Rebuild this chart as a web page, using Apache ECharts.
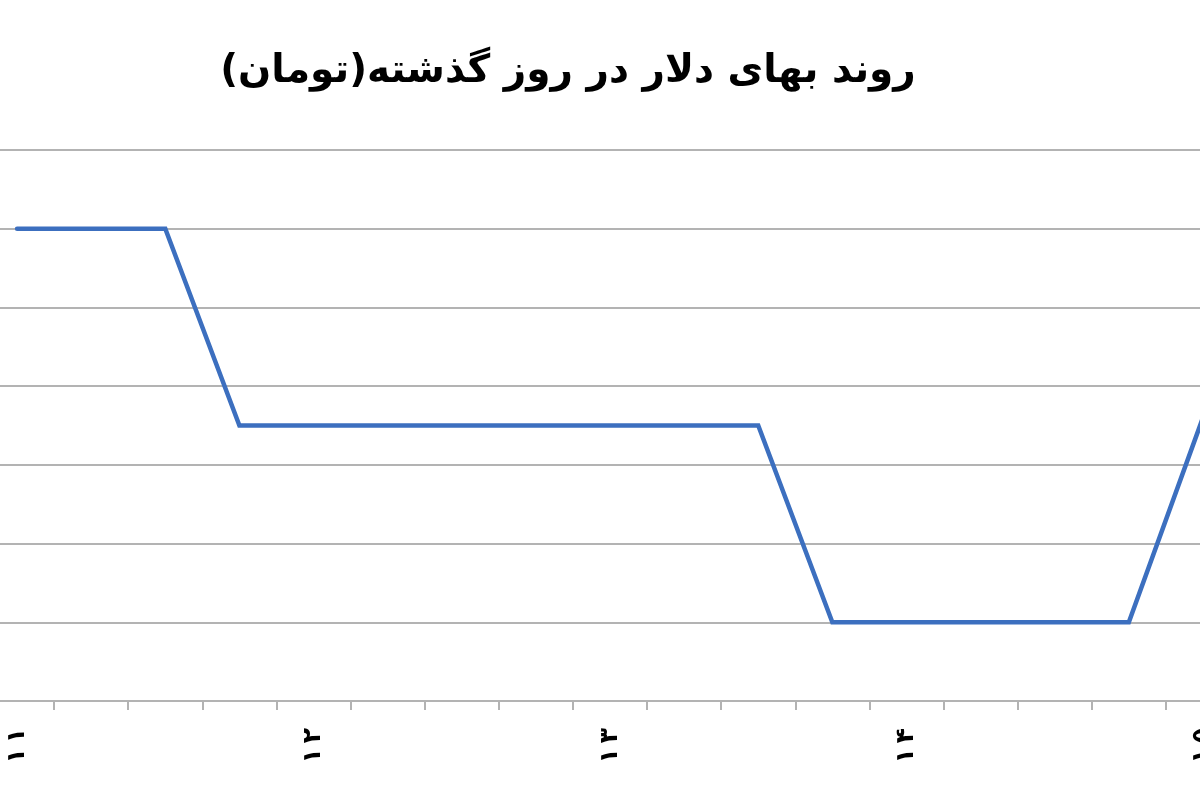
<!DOCTYPE html>
<html>
<head>
<meta charset="utf-8">
<script src="https://cdn.jsdelivr.net/npm/echarts@6/dist/echarts.min.js"></script>
<style>
html,body{margin:0;padding:0;background:#fff;overflow:hidden;width:1200px;height:800px;}
#wrap{position:relative;width:1200px;height:800px;overflow:hidden;}
#chart{position:absolute;left:-20px;top:0;width:1260px;height:800px;}
</style>
</head>
<body>
<div id="wrap"><div id="chart"></div></div>
<script>
// Categories: quarter-hour times, 11:00 to 15:00 (Persian digits)
const categories = [
  "۱۱:۰۰","۱۱:۱۵","۱۱:۳۰","۱۱:۴۵",
  "۱۲:۰۰","۱۲:۱۵","۱۲:۳۰","۱۲:۴۵",
  "۱۳:۰۰","۱۳:۱۵","۱۳:۳۰","۱۳:۴۵",
  "۱۴:۰۰","۱۴:۱۵","۱۴:۳۰","۱۴:۴۵",
  "۱۵:۰۰"
];
// Dollar price (toman)
const prices = [
  13600, 13600, 13600, 13350,
  13350, 13350, 13350, 13350,
  13350, 13350, 13350, 13100,
  13100, 13100, 13100, 13100,
  13360
];
const yMin = 13000, yMax = 13700, yStep = 100;
const titleText = "روند بهای دلار در روز گذشته(تومان)";

const chart = echarts.init(document.getElementById('chart'));
chart.setOption({
  backgroundColor: '#ffffff',
  animation: false,
  title: {
    text: titleText,
    left: 583,
    top: 47,
    textAlign: 'center',
    textStyle: {
      fontFamily: 'DejaVu Sans',
      fontWeight: 'bold',
      fontSize: 39,
      color: '#000000'
    }
  },
  grid: { left: 0, right: 0, top: 150, bottom: 99 },
  xAxis: {
    type: 'category',
    data: categories,
    boundaryGap: true,
    axisLine: { show: true, lineStyle: { color: '#b3b3b3', width: 2 } },
    axisTick: { show: true, interval: 0, length: 9, lineStyle: { color: '#b3b3b3', width: 2 } },
    axisLabel: {
      interval: 3,
      rotate: 90,
      margin: 27,
      fontFamily: 'DejaVu Sans',
      fontWeight: 'bold',
      fontSize: 25,
      color: '#000000',
      formatter: function (v) { return v.split(':')[0].split('').join('\u2009'); }
    },
    splitLine: { show: false }
  },
  yAxis: {
    type: 'value',
    min: yMin,
    max: yMax,
    interval: yStep,
    axisLine: { show: false },
    axisTick: { show: false },
    axisLabel: { show: false },
    splitLine: { show: true, lineStyle: { color: '#b3b3b3', width: 2 } }
  },
  series: [{
    type: 'line',
    data: prices,
    symbol: 'none',
    lineStyle: { color: '#3c6fbf', width: 4.5, cap: 'round', join: 'miter' },
    itemStyle: { color: '#3c6fbf' }
  }]
});
</script>
</body>
</html>
